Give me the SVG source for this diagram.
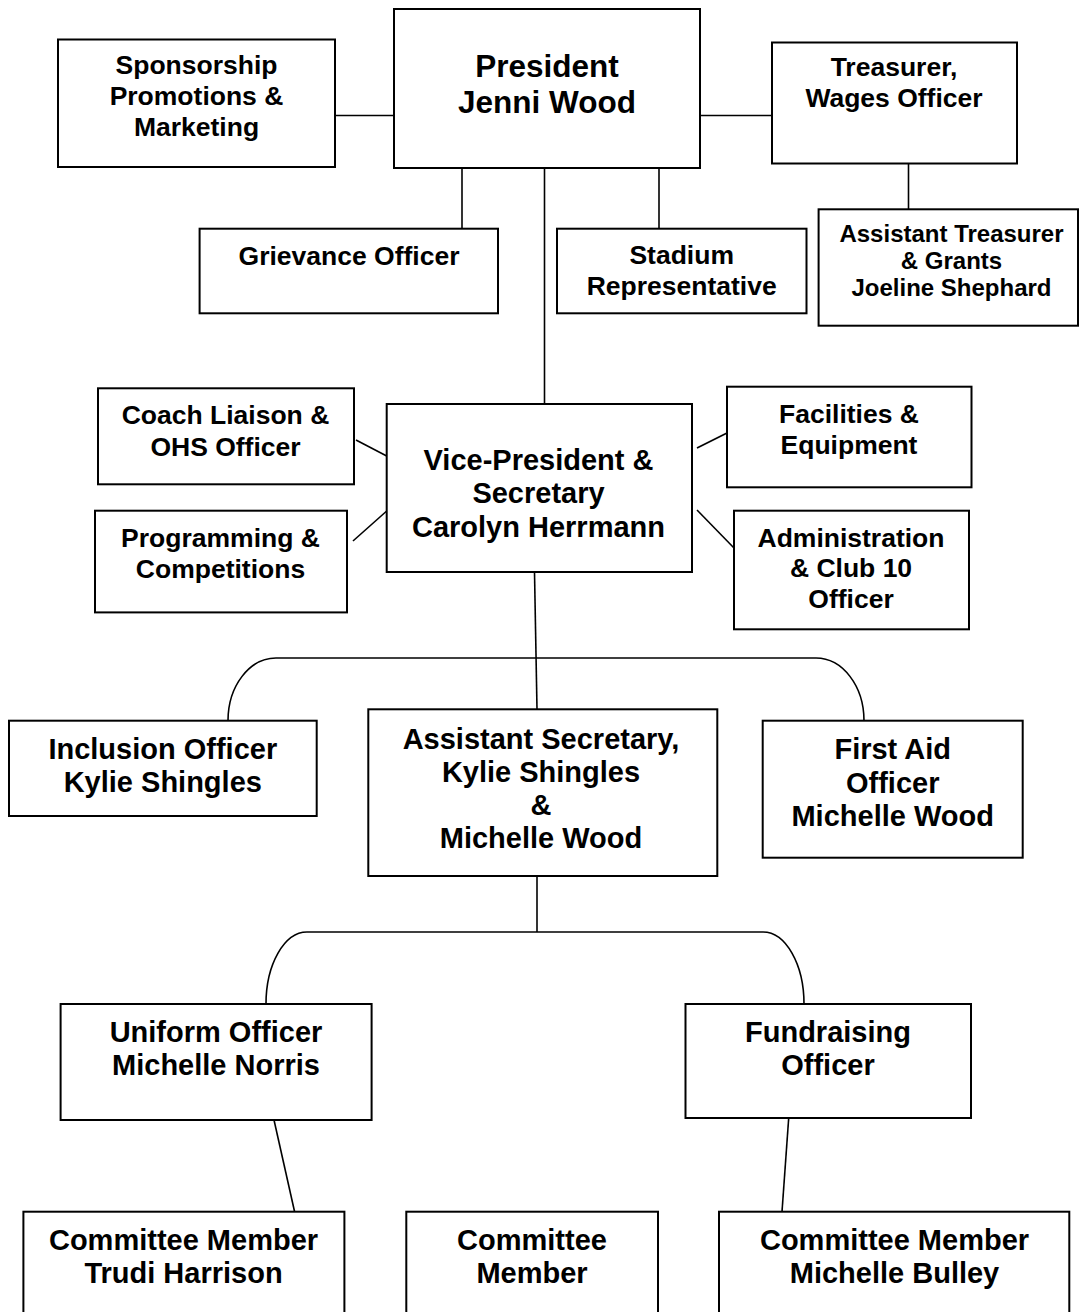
<svg xmlns="http://www.w3.org/2000/svg" width="1079" height="1312" viewBox="0 0 1079 1312">
<style>
rect.box{fill:#fff;stroke:#000;stroke-width:2}
text{font-family:"Liberation Sans",Arial,sans-serif;font-weight:bold;fill:#000;text-anchor:middle}
.s{font-size:26.5px}
.p{font-size:31.5px}
.m{font-size:29px}
.t{font-size:24px}
#connectors path,#connectors line{fill:none;stroke:#000;stroke-width:1.6}
</style>
<rect width="1079" height="1312" fill="#fff"/>
<g id="connectors">
<line x1="335" y1="115.5" x2="394" y2="115.5"/>
<line x1="700" y1="115.5" x2="772" y2="115.5"/>
<line x1="462" y1="168" x2="462" y2="228.7"/>
<line x1="659" y1="168" x2="659" y2="228.7"/>
<line x1="908.5" y1="163.5" x2="908.5" y2="209.3"/>
<line x1="544.5" y1="168" x2="544.5" y2="404"/>
<line x1="356" y1="440" x2="386.7" y2="456"/>
<line x1="353" y1="541" x2="386.7" y2="511"/>
<line x1="697" y1="448" x2="727" y2="433"/>
<line x1="697" y1="510" x2="734" y2="548"/>
<line x1="534.5" y1="572" x2="537" y2="709.3"/>
<path d="M228,720.7 A48,62.7 0 0 1 276,658 L816,658 A48,62.7 0 0 1 864,720.7"/>
<line x1="537" y1="876" x2="537" y2="932"/>
<path d="M266,1004 A41,72 0 0 1 307,932 L763,932 A41,72 0 0 1 804,1004"/>
<line x1="274" y1="1120" x2="294.6" y2="1211.7"/>
<line x1="788.7" y1="1118" x2="782" y2="1211.7"/>
</g>
<g id="president">
<rect class="box" x="394" y="9" width="306" height="159"/>
<text class="p" x="547" y="77">President</text>
<text class="p" x="547" y="113">Jenni Wood</text>
</g>
<g id="sponsorship">
<rect class="box" x="58" y="39.5" width="277" height="127.5"/>
<text class="s" x="196.5" y="74">Sponsorship</text>
<text class="s" x="196.5" y="105">Promotions &amp;</text>
<text class="s" x="196.5" y="136">Marketing</text>
</g>
<g id="treasurer">
<rect class="box" x="772" y="42.5" width="245" height="121"/>
<text class="s" x="894" y="76">Treasurer,</text>
<text class="s" x="894" y="107">Wages Officer</text>
</g>
<g id="grievance">
<rect class="box" x="199.6" y="228.7" width="298.4" height="84.6"/>
<text class="s" x="349" y="265">Grievance Officer</text>
</g>
<g id="stadium">
<rect class="box" x="557" y="228.7" width="249.5" height="84.6"/>
<text class="s" x="681.7" y="264">Stadium</text>
<text class="s" x="681.7" y="295">Representative</text>
</g>
<g id="asst-treasurer">
<rect class="box" x="818.6" y="209.3" width="259.4" height="116.4"/>
<text class="t" x="951.5" y="242">Assistant Treasurer</text>
<text class="t" x="951.5" y="269">&amp; Grants</text>
<text class="t" x="951.5" y="296">Joeline Shephard</text>
</g>
<g id="coach">
<rect class="box" x="98" y="388.3" width="256" height="96"/>
<text class="s" x="225.5" y="424">Coach Liaison &amp;</text>
<text class="s" x="225.5" y="456">OHS Officer</text>
</g>
<g id="programming">
<rect class="box" x="95" y="510.7" width="252" height="101.7"/>
<text class="s" x="220.5" y="547">Programming &amp;</text>
<text class="s" x="220.5" y="577.5">Competitions</text>
</g>
<g id="vice-president">
<rect class="box" x="386.7" y="404" width="305.3" height="168"/>
<text class="m" x="538.5" y="469.5">Vice-President &amp;</text>
<text class="m" x="538.5" y="503">Secretary</text>
<text class="m" x="538.5" y="536.5">Carolyn Herrmann</text>
</g>
<g id="facilities">
<rect class="box" x="727" y="386.7" width="244.5" height="100.6"/>
<text class="s" x="849" y="423">Facilities &amp;</text>
<text class="s" x="849" y="454">Equipment</text>
</g>
<g id="administration">
<rect class="box" x="734" y="510.7" width="235" height="118.6"/>
<text class="s" x="851" y="546.5">Administration</text>
<text class="s" x="851" y="577">&amp; Club 10</text>
<text class="s" x="851" y="608">Officer</text>
</g>
<g id="inclusion">
<rect class="box" x="9" y="720.7" width="307.7" height="95.3"/>
<text class="m" x="162.8" y="759">Inclusion Officer</text>
<text class="m" x="162.8" y="792">Kylie Shingles</text>
</g>
<g id="asst-secretary">
<rect class="box" x="368.3" y="709.3" width="349" height="166.7"/>
<text class="m" x="541" y="749">Assistant Secretary,</text>
<text class="m" x="541" y="782">Kylie Shingles</text>
<text class="m" x="541" y="815">&amp;</text>
<text class="m" x="541" y="848">Michelle Wood</text>
</g>
<g id="first-aid">
<rect class="box" x="762.7" y="720.7" width="260" height="137"/>
<text class="m" x="892.7" y="759">First Aid</text>
<text class="m" x="892.7" y="792.5">Officer</text>
<text class="m" x="892.7" y="826">Michelle Wood</text>
</g>
<g id="uniform">
<rect class="box" x="60.6" y="1004" width="311" height="116"/>
<text class="m" x="216" y="1042">Uniform Officer</text>
<text class="m" x="216" y="1075">Michelle Norris</text>
</g>
<g id="fundraising">
<rect class="box" x="685.5" y="1004" width="285.5" height="114"/>
<text class="m" x="828" y="1042">Fundraising</text>
<text class="m" x="828" y="1075">Officer</text>
</g>
<g id="committee-trudi">
<rect class="box" x="23.4" y="1211.7" width="321" height="130"/>
<text class="m" x="183.5" y="1250">Committee Member</text>
<text class="m" x="183.5" y="1283">Trudi Harrison</text>
</g>
<g id="committee-member">
<rect class="box" x="406.3" y="1211.7" width="251.7" height="130"/>
<text class="m" x="532" y="1250">Committee</text>
<text class="m" x="532" y="1283">Member</text>
</g>
<g id="committee-bulley">
<rect class="box" x="719" y="1211.7" width="350.3" height="130"/>
<text class="m" x="894.5" y="1250">Committee Member</text>
<text class="m" x="894.5" y="1283">Michelle Bulley</text>
</g>
</svg>
